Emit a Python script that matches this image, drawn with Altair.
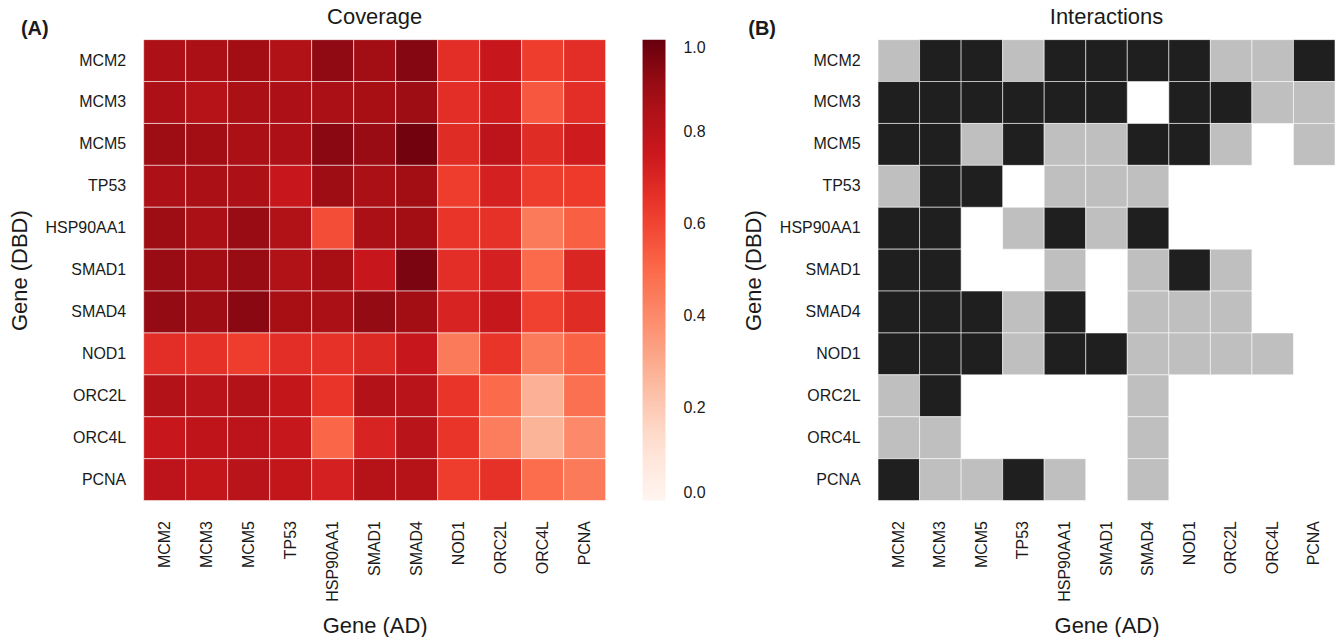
import altair as alt
import pandas as pd

genes = ["MCM2", "MCM3", "MCM5", "TP53", "HSP90AA1", "SMAD1", "SMAD4",
         "NOD1", "ORC2L", "ORC4L", "PCNA"]

# Coverage matrix: rows = DBD gene, columns = AD gene
coverage = [
    [0.85, 0.86, 0.88, 0.84, 0.92, 0.88, 0.94, 0.67, 0.76, 0.62, 0.67],  # MCM2
    [0.85, 0.82, 0.86, 0.85, 0.86, 0.87, 0.89, 0.67, 0.74, 0.55, 0.67],  # MCM3
    [0.89, 0.88, 0.86, 0.85, 0.93, 0.90, 0.98, 0.68, 0.80, 0.68, 0.74],  # MCM5
    [0.85, 0.86, 0.85, 0.76, 0.89, 0.86, 0.88, 0.62, 0.72, 0.62, 0.63],  # TP53
    [0.89, 0.86, 0.90, 0.84, 0.58, 0.86, 0.88, 0.65, 0.66, 0.45, 0.53],  # HSP90AA1
    [0.90, 0.88, 0.90, 0.84, 0.87, 0.76, 0.96, 0.67, 0.72, 0.50, 0.70],  # SMAD1
    [0.91, 0.89, 0.93, 0.87, 0.86, 0.91, 0.88, 0.71, 0.77, 0.61, 0.68],  # SMAD4
    [0.67, 0.66, 0.62, 0.67, 0.66, 0.69, 0.76, 0.45, 0.65, 0.45, 0.52],  # NOD1
    [0.83, 0.81, 0.83, 0.78, 0.65, 0.83, 0.81, 0.65, 0.50, 0.28, 0.48],  # ORC2L
    [0.76, 0.79, 0.80, 0.77, 0.51, 0.71, 0.81, 0.65, 0.44, 0.27, 0.40],  # ORC4L
    [0.80, 0.78, 0.81, 0.78, 0.72, 0.82, 0.82, 0.62, 0.66, 0.49, 0.45],  # PCNA
]

# Interactions: 1 = strong (black), 0.5 = weak (grey), None = none (white)
B, G, W = 1.0, 0.5, None
interactions = [
    [G, B, B, G, B, B, B, B, G, G, B],  # MCM2
    [B, B, B, B, B, B, W, B, B, G, G],  # MCM3
    [B, B, G, B, G, G, B, B, G, W, G],  # MCM5
    [G, B, B, W, G, G, G, W, W, W, W],  # TP53
    [B, B, W, G, B, G, B, W, W, W, W],  # HSP90AA1
    [B, B, W, W, G, W, G, B, G, W, W],  # SMAD1
    [B, B, B, G, B, W, G, G, G, W, W],  # SMAD4
    [B, B, B, G, B, B, G, G, G, G, W],  # NOD1
    [G, B, W, W, W, W, G, W, W, W, W],  # ORC2L
    [G, G, W, W, W, W, G, W, W, W, W],  # ORC4L
    [B, G, G, B, G, W, G, W, W, W, W],  # PCNA
]

colorbar_ticks = [0.0, 0.2, 0.4, 0.6, 0.8, 1.0]

# matplotlib "Reds" colormap stops
reds_domain = [0, 0.125, 0.25, 0.375, 0.5, 0.625, 0.75, 0.875, 1.0]
reds_range = ["#fff5f0", "#fee0d2", "#fcbba1", "#fc9272", "#fb6a4a",
              "#ef3b2c", "#cb181d", "#a50f15", "#67000d"]

cov_rows = []
int_rows = []
for i, dbd in enumerate(genes):
    for j, ad in enumerate(genes):
        cov_rows.append({"dbd": dbd, "ad": ad, "value": coverage[i][j]})
        if interactions[i][j] is not None:
            int_rows.append({"dbd": dbd, "ad": ad, "value": interactions[i][j]})
cov_df = pd.DataFrame(cov_rows)
int_df = pd.DataFrame(int_rows)

FONT = "Liberation Sans"
TXT = "#1a1a1a"


def x_enc():
    return alt.X("ad:N", sort=genes, scale=alt.Scale(paddingInner=0, paddingOuter=0),
                 axis=alt.Axis(title="Gene (AD)", labelAngle=270, ticks=False, domain=False,
                               labelPadding=20, titlePadding=14, labelFontSize=16,
                               titleFontSize=22, labelFont=FONT, titleFont=FONT,
                               labelColor=TXT, titleColor=TXT, titleFontWeight="normal"))


def y_enc():
    return alt.Y("dbd:N", sort=genes, scale=alt.Scale(paddingInner=0, paddingOuter=0),
                 axis=alt.Axis(title="Gene (DBD)", ticks=False, domain=False,
                               labelPadding=18, titlePadding=14, labelFontSize=16,
                               titleFontSize=22, labelFont=FONT, titleFont=FONT,
                               labelColor=TXT, titleColor=TXT, titleFontWeight="normal"))


left_rect = alt.Chart(cov_df).mark_rect(stroke="white", strokeWidth=1, strokeOpacity=0.55).encode(
    x=x_enc(),
    y=y_enc(),
    color=alt.Color("value:Q", title=None,
                    scale=alt.Scale(domain=reds_domain, range=reds_range, interpolate="rgb"),
                    legend=alt.Legend(orient="right", offset=37, gradientLength=462,
                                      gradientThickness=23, gradientStrokeWidth=0,
                                      values=colorbar_ticks, format=".1f",
                                      labelFontSize=16, labelFont=FONT, labelColor=TXT,
                                      labelOffset=18)),
)

label_a = alt.Chart(pd.DataFrame({"t": ["(A)"]})).mark_text(
    font=FONT, fontSize=20, fontWeight="bold", align="left", baseline="middle", color=TXT
).encode(text="t:N", x=alt.value(-123), y=alt.value(-11))

left = alt.layer(left_rect, label_a).properties(
    width=463, height=462,
    title=alt.TitleParams("Coverage", font=FONT, fontSize=22, fontWeight="normal",
                          color=TXT, offset=-10, frame="group"),
)

right_rect = alt.Chart(int_df).mark_rect(stroke="white", strokeWidth=1, strokeOpacity=0.55).encode(
    x=x_enc(),
    y=y_enc(),
    color=alt.Color("value:Q", scale=alt.Scale(domain=[0.5, 1], range=["#bfbfbf", "#1f1f1f"]),
                    legend=None),
)

label_b = alt.Chart(pd.DataFrame({"t": ["(B)"]})).mark_text(
    font=FONT, fontSize=20, fontWeight="bold", align="left", baseline="middle", color=TXT
).encode(text="t:N", x=alt.value(-130), y=alt.value(-11))

right = alt.layer(right_rect, label_b).properties(
    width=458, height=462,
    title=alt.TitleParams("Interactions", font=FONT, fontSize=22, fontWeight="normal",
                          color=TXT, offset=-10, frame="group"),
)

chart = alt.hconcat(left, right, spacing=36).resolve_scale(color="independent").properties(
    padding={"left": 8, "top": 5, "right": 0, "bottom": 0}
).configure_view(stroke=None)

chart.save("out.html", embed_options={"renderer": "svg", "actions": False})
